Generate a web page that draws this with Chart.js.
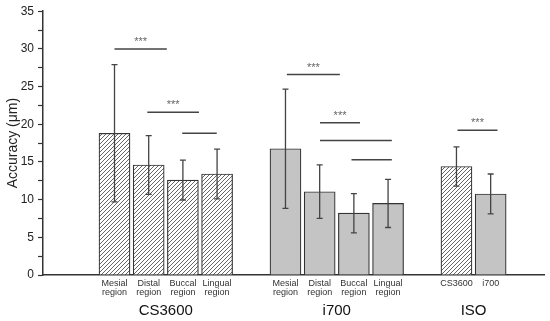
<!DOCTYPE html>
<html lang="en">
<head>
    <meta charset="UTF-8">
    <title>Accuracy by region</title>
    <script src="https://cdn.jsdelivr.net/npm/chart.js"></script>
    <style>
        body {
            margin: 0;
            padding: 0;
            background: #fff;
            font-family: "Liberation Sans", Arial, sans-serif;
        }
        #chartContainer {
            width: 550px;
            height: 321px;
        }
    </style>
</head>
<body>
    <div id="chartContainer">
        <canvas id="accChart"></canvas>
    </div>

    <script>
        // groups along the x axis, and the bars in each one
        const groupNames = ['CS3600', 'i700', 'ISO'];
        const groupSizes = [4, 4, 2];
        const barLabels = [
            'Mesial region', 'Distal region', 'Buccal region', 'Lingual region',
            'Mesial region', 'Distal region', 'Buccal region', 'Lingual region',
            'CS3600', 'i700'
        ];
        const scanner = [
            'CS3600', 'CS3600', 'CS3600', 'CS3600',
            'i700', 'i700', 'i700', 'i700',
            'CS3600', 'i700'
        ];
        const meanAcc = [18.8, 14.6, 12.6, 13.4, 16.75, 11.05, 8.2, 9.5, 14.4, 10.75];
        const sdAcc = [9.1, 3.9, 2.65, 3.3, 7.9, 3.55, 2.6, 3.2, 2.6, 2.65];

        // significance brackets: [from x, to x, height (µm), label]
        const brackets = [
            [2.0, 3.53, 30.0, '***'],
            [2.96, 4.47, 21.6, '***'],
            [3.98, 4.99, 18.8, ''],
            [7.04, 8.59, 26.6, '***'],
            [8.01, 9.18, 20.2, '***'],
            [8.01, 10.11, 17.85, ''],
            [8.93, 10.11, 15.3, ''],
            [12.03, 13.2, 19.2, '***']
        ];

        const yTicks = [0, 5, 10, 15, 20, 25, 30, 35];

        // bar positions: first bar at 2, one empty slot between groups
        const xPos = [];
        const groupCenters = [];
        let pos = 2;
        groupSizes.forEach(n => {
            groupCenters.push(pos + (n - 1) / 2);
            for (let i = 0; i < n; i++) xPos.push(pos + i);
            pos += n + 1;
        });

        function makeHatch() {
            const c = document.createElement('canvas');
            c.width = 4;
            c.height = 4;
            const g = c.getContext('2d');
            g.fillStyle = '#fff';
            g.fillRect(0, 0, 4, 4);
            g.strokeStyle = '#555';
            g.lineWidth = 0.9;
            g.beginPath();
            g.moveTo(-1, 5); g.lineTo(5, -1);
            g.moveTo(-1, 1); g.lineTo(1, -1);
            g.moveTo(3, 5); g.lineTo(5, 3);
            g.stroke();
            return g.createPattern(c, 'repeat');
        }
        const hatch = makeHatch();

        const extras = {
            id: 'extras',
            afterDatasetsDraw(chart) {
                const ctx = chart.ctx;
                const xs = chart.scales.x;
                const ys = chart.scales.y;
                ctx.save();
                // error bars
                ctx.strokeStyle = '#444';
                ctx.lineWidth = 1.3;
                meanAcc.forEach((m, i) => {
                    const px = xs.getPixelForValue(xPos[i]);
                    const top = ys.getPixelForValue(m + sdAcc[i]);
                    const bot = ys.getPixelForValue(m - sdAcc[i]);
                    ctx.beginPath();
                    ctx.moveTo(px, top); ctx.lineTo(px, bot);
                    ctx.moveTo(px - 3, top); ctx.lineTo(px + 3, top);
                    ctx.moveTo(px - 3, bot); ctx.lineTo(px + 3, bot);
                    ctx.stroke();
                });
                // brackets
                ctx.lineWidth = 1.5;
                ctx.fillStyle = '#666';
                ctx.font = '11px "Liberation Sans", Arial, sans-serif';
                ctx.textAlign = 'center';
                ctx.textBaseline = 'middle';
                brackets.forEach(b => {
                    const x1 = xs.getPixelForValue(b[0]);
                    const x2 = xs.getPixelForValue(b[1]);
                    const y = ys.getPixelForValue(b[2]);
                    ctx.beginPath();
                    ctx.moveTo(x1, y); ctx.lineTo(x2, y);
                    ctx.stroke();
                    if (b[3]) ctx.fillText(b[3], (x1 + x2) / 2, y - 7);
                });
                ctx.restore();
            }
        };

        const ctx = document.getElementById('accChart').getContext('2d');
        new Chart(ctx, {
            type: 'bar',
            data: {
                datasets: [{
                    data: meanAcc.map((v, i) => ({ x: xPos[i], y: v })),
                    backgroundColor: scanner.map(s => s === 'CS3600' ? hatch : '#c4c4c4'),
                    borderColor: '#333',
                    borderWidth: 1.2,
                    barThickness: 31
                }]
            },
            options: {
                responsive: true,
                maintainAspectRatio: false,
                animation: false,
                layout: { padding: { top: 9, right: 6, left: 0, bottom: 0 } },
                plugins: {
                    legend: { display: false },
                    tooltip: { enabled: false }
                },
                scales: {
                    x: {
                        type: 'linear',
                        offset: false,
                        min: -0.091,
                        max: 14.56,
                        grid: { display: false, drawTicks: false, tickLength: 0 },
                        border: { color: '#333', width: 1.5 },
                        afterBuildTicks: scale => { scale.ticks = xPos.map(v => ({ value: v })); },
                        afterFit: scale => { scale.height = 24; },
                        ticks: {
                            autoSkip: false,
                            maxRotation: 0,
                            padding: 4,
                            color: '#333',
                            font: { size: 9, family: '"Liberation Sans", Arial, sans-serif', lineHeight: 1.0 },
                            callback: v => {
                                const i = xPos.indexOf(v);
                                return i < 0 ? '' : barLabels[i].split(' ');
                            }
                        }
                    },
                    x2: {
                        type: 'linear',
                        position: 'bottom',
                        offset: false,
                        min: -0.091,
                        max: 14.56,
                        grid: { display: false, drawTicks: false, tickLength: 0 },
                        border: { display: false },
                        afterBuildTicks: scale => { scale.ticks = groupCenters.map(v => ({ value: v })); },
                        afterFit: scale => { scale.height = 22; },
                        ticks: {
                            autoSkip: false,
                            maxRotation: 0,
                            padding: 3,
                            color: '#111',
                            font: { size: 15, family: '"Liberation Sans", Arial, sans-serif' },
                            callback: v => {
                                const i = groupCenters.indexOf(v);
                                return i < 0 ? '' : groupNames[i];
                            }
                        }
                    },
                    y: {
                        min: 0,
                        max: 35,
                        afterFit: scale => { scale.width = 43; },
                        grid: {
                            drawOnChartArea: false,
                            tickLength: 5,
                            tickColor: '#333',
                            tickWidth: 1.2
                        },
                        border: { color: '#333', width: 1.5 },
                        ticks: {
                            stepSize: 2.5,
                            autoSkip: false,
                            padding: 4,
                            color: '#222',
                            font: { size: 12, family: '"Liberation Sans", Arial, sans-serif' },
                            callback: v => yTicks.includes(v) ? v : ''
                        },
                        title: {
                            display: true,
                            text: 'Accuracy (μm)',
                            color: '#222',
                            padding: { top: 5, bottom: 2 },
                            font: { size: 14, family: '"Liberation Sans", Arial, sans-serif' }
                        }
                    }
                }
            },
            plugins: [extras]
        });
    </script>
</body>
</html>
